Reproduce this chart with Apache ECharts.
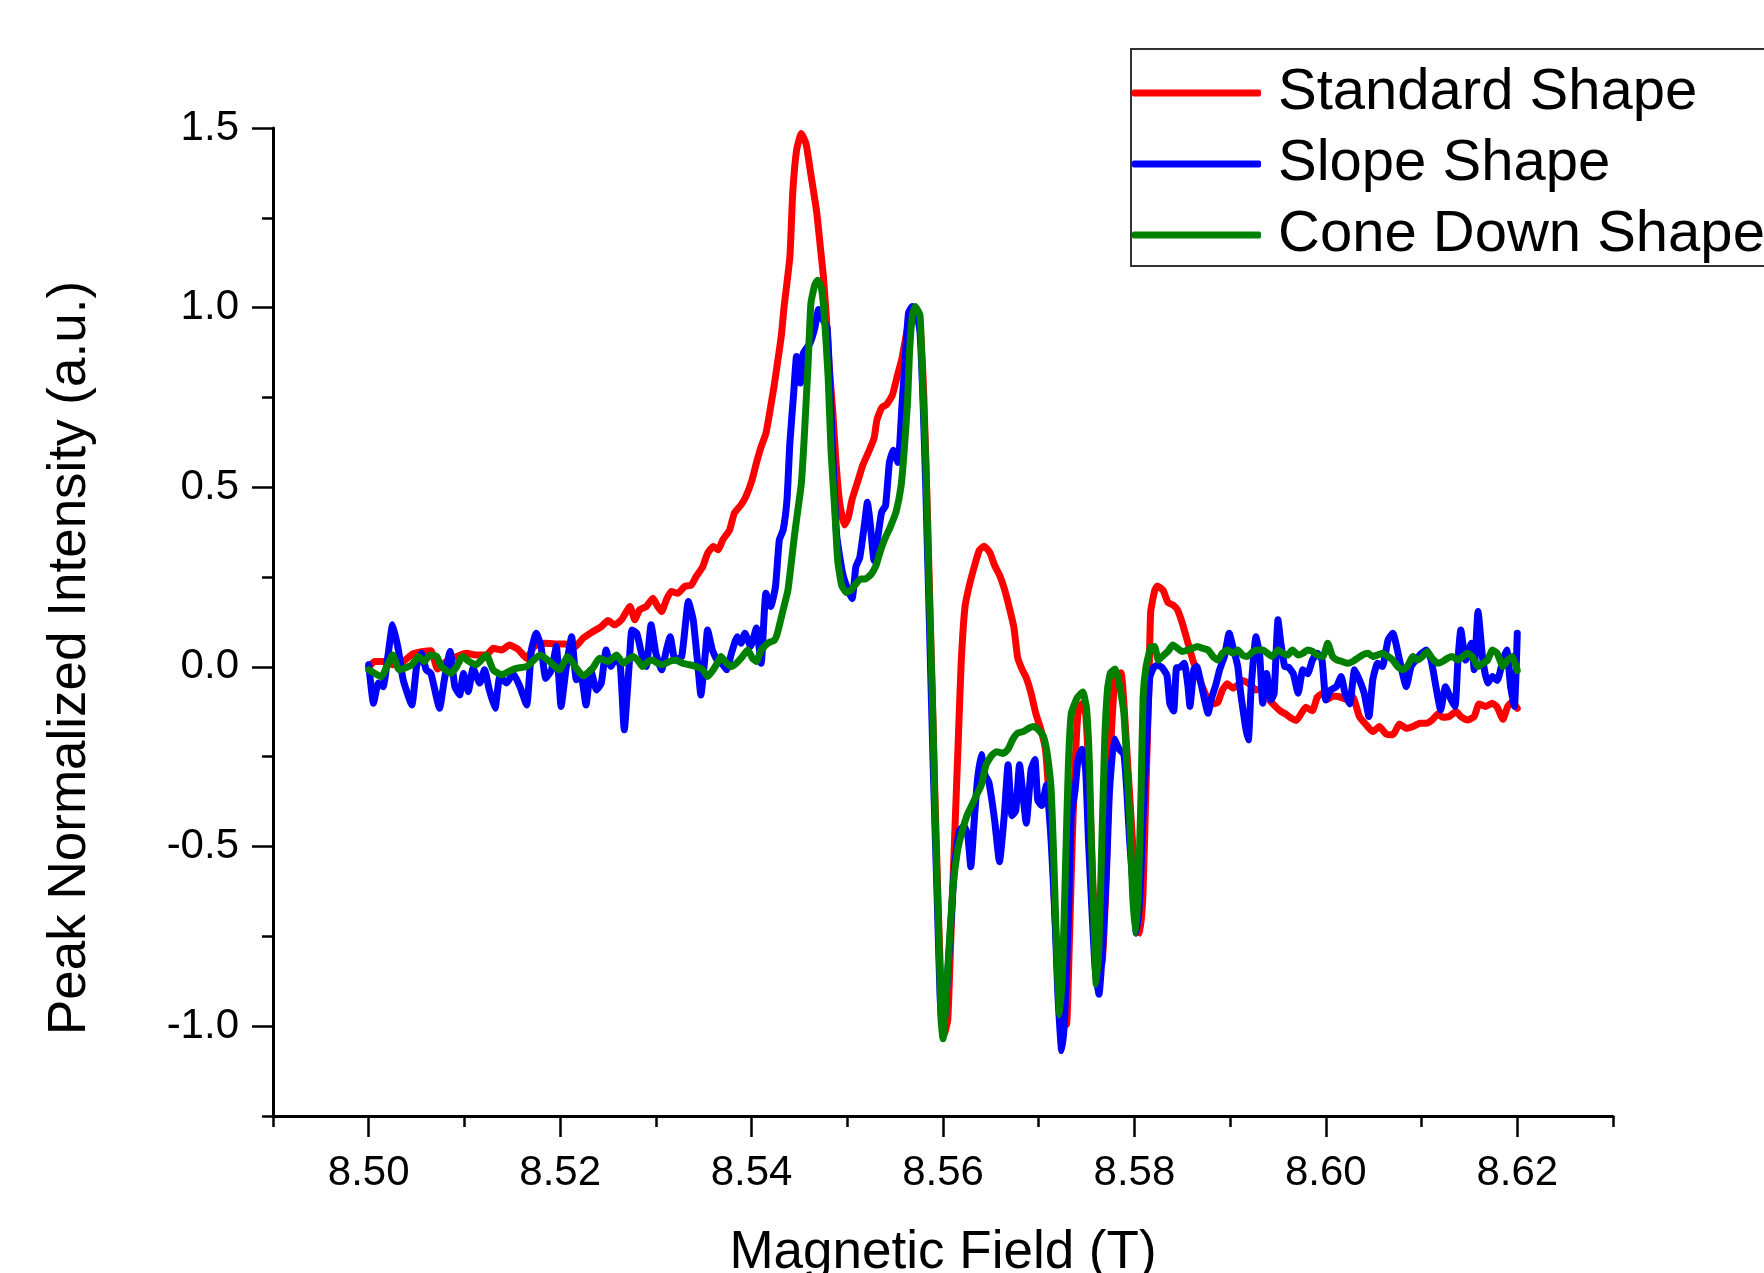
<!DOCTYPE html>
<html>
<head>
<meta charset="utf-8">
<script src="https://cdn.jsdelivr.net/npm/echarts@6/dist/echarts.min.js"></script>
<style>
html,body{margin:0;padding:0;background:#fff;}
#chart{width:1764px;height:1273px;}
</style>
</head>
<body>
<div id="chart"></div>
<script>
const seriesNames = ['Standard Shape', 'Slope Shape', 'Cone Down Shape'];
const xTickLabels = ['8.49','8.50','8.51','8.52','8.53','8.54','8.55','8.56','8.57','8.58','8.59','8.60','8.61','8.62','8.63'];
const yTickLabels = ['-1.25','-1.0','-0.75','-0.5','-0.25','0.0','0.25','0.5','0.75','1.0','1.25','1.5'];
const xAxisTitle = 'Magnetic Field (T)';
const yAxisTitle = 'Peak Normalized Intensity (a.u.)';

const standardShape = [
[8.5000,0.000],[8.5006,0.015],[8.5017,0.015],[8.5025,0.006],[8.5036,0.015],[8.5046,0.036],[8.5057,0.043],[8.5065,0.045],[8.5072,-0.006],[8.5081,0.015],[8.5092,0.029],[8.5102,0.038],[8.5112,0.033],[8.5123,0.033],[8.5130,0.052],[8.5139,0.047],[8.5147,0.061],[8.5156,0.049],[8.5165,0.024],[8.5173,0.057],[8.5184,0.066],[8.5194,0.064],[8.5205,0.064],[8.5215,0.055],[8.5224,0.080],[8.5234,0.098],[8.5243,0.112],[8.5250,0.129],[8.5257,0.117],[8.5264,0.131],[8.5273,0.168],[8.5278,0.131],[8.5283,0.159],[8.5290,0.168],[8.5297,0.191],[8.5302,0.168],[8.5306,0.154],[8.5311,0.187],[8.5316,0.210],[8.5323,0.205],[8.5330,0.224],[8.5337,0.228],[8.5342,0.251],[8.5349,0.279],[8.5354,0.316],[8.5360,0.335],[8.5365,0.326],[8.5370,0.354],[8.5377,0.381],[8.5382,0.428],[8.5389,0.451],[8.5394,0.474],[8.5400,0.516],[8.5405,0.567],[8.5410,0.613],[8.5415,0.650],[8.5420,0.725],[8.5424,0.790],[8.5427,0.845],[8.5431,0.920],[8.5434,1.003],[8.5440,1.140],[8.5443,1.319],[8.5447,1.438],[8.5452,1.485],[8.5457,1.455],[8.5462,1.370],[8.5468,1.267],[8.5472,1.165],[8.5475,1.088],[8.5478,0.978],[8.5481,0.841],[8.5485,0.705],[8.5488,0.577],[8.5492,0.458],[8.5497,0.395],[8.5501,0.415],[8.5505,0.466],[8.5511,0.517],[8.5516,0.560],[8.5523,0.603],[8.5528,0.637],[8.5531,0.688],[8.5536,0.722],[8.5541,0.730],[8.5547,0.756],[8.5552,0.807],[8.5557,0.858],[8.5563,0.944],[8.5567,0.995],[8.5572,0.990],[8.5576,0.950],[8.5580,0.750],[8.5584,0.400],[8.5588,0.000],[8.5592,-0.400],[8.5596,-0.750],[8.5599,-0.970],[8.5601,-1.025],
[8.5605,-0.982],[8.5608,-0.769],[8.5612,-0.485],[8.5616,-0.201],[8.5619,0.012],[8.5623,0.168],[8.5628,0.232],[8.5633,0.282],[8.5638,0.325],[8.5643,0.336],[8.5649,0.318],[8.5654,0.282],[8.5659,0.256],[8.5664,0.218],[8.5669,0.168],[8.5674,0.111],[8.5678,0.026],[8.5683,-0.009],[8.5687,-0.030],[8.5692,-0.073],[8.5697,-0.130],[8.5702,-0.172],[8.5707,-0.229],[8.5710,-0.329],[8.5714,-0.485],[8.5717,-0.698],[8.5721,-0.883],[8.5725,-0.982],[8.5729,-0.996],[8.5732,-0.769],[8.5735,-0.485],[8.5738,-0.272],[8.5741,-0.130],[8.5745,-0.102],[8.5749,-0.130],[8.5752,-0.272],[8.5755,-0.485],[8.5757,-0.627],[8.5761,-0.755],[8.5766,-0.826],[8.5770,-0.627],[8.5773,-0.343],[8.5777,-0.130],[8.5780,-0.030],[8.5786,-0.016],[8.5789,-0.102],[8.5793,-0.272],[8.5798,-0.485],[8.5802,-0.698],[8.5806,-0.741],[8.5809,-0.627],[8.5812,-0.343],[8.5815,-0.059],[8.5817,0.154],[8.5821,0.211],[8.5824,0.225],[8.5830,0.213],[8.5835,0.179],[8.5840,0.173],[8.5845,0.159],[8.5850,0.122],[8.5856,0.066],[8.5861,0.019],[8.5866,-0.018],[8.5871,-0.055],[8.5877,-0.092],[8.5882,-0.103],[8.5887,-0.099],[8.5892,-0.064],[8.5897,-0.047],[8.5903,-0.059],[8.5908,-0.050],[8.5913,-0.038],[8.5920,-0.047],[8.5927,-0.064],[8.5934,-0.059],[8.5941,-0.092],[8.5948,-0.112],[8.5953,-0.124],[8.5958,-0.131],[8.5964,-0.143],[8.5969,-0.149],[8.5974,-0.131],[8.5979,-0.112],[8.5986,-0.122],[8.5991,-0.084],[8.5997,-0.073],[8.6002,-0.090],[8.6007,-0.081],[8.6014,-0.083],[8.6021,-0.090],[8.6028,-0.083],[8.6035,-0.138],[8.6042,-0.161],[8.6049,-0.180],[8.6056,-0.166],[8.6063,-0.187],[8.6070,-0.189],[8.6077,-0.159],[8.6084,-0.171],[8.6091,-0.166],[8.6098,-0.157],[8.6105,-0.157],[8.6111,-0.148],[8.6117,-0.131],[8.6122,-0.140],[8.6129,-0.138],[8.6136,-0.124],[8.6141,-0.138],[8.6148,-0.148],[8.6155,-0.138],[8.6160,-0.103],[8.6167,-0.110],[8.6174,-0.101],[8.6179,-0.112],[8.6185,-0.146],[8.6190,-0.110],[8.6195,-0.097],[8.6200,-0.115]
];

const slopeShape = [
[8.5000,0.006],[8.5005,-0.101],[8.5010,-0.045],[8.5015,-0.055],[8.5020,0.029],[8.5025,0.117],[8.5031,0.047],[8.5036,-0.036],[8.5045,-0.106],[8.5050,0.001],[8.5055,0.038],[8.5060,-0.008],[8.5065,-0.018],[8.5074,-0.115],[8.5079,-0.036],[8.5085,0.043],[8.5090,-0.055],[8.5095,-0.078],[8.5099,-0.018],[8.5104,-0.069],[8.5109,-0.004],[8.5116,-0.045],[8.5121,-0.008],[8.5126,-0.064],[8.5132,-0.115],[8.5137,-0.027],[8.5144,-0.045],[8.5151,-0.018],[8.5158,-0.055],[8.5165,-0.106],[8.5170,0.047],[8.5175,0.094],[8.5180,0.057],[8.5185,-0.032],[8.5191,-0.008],[8.5196,0.057],[8.5201,-0.110],[8.5206,-0.008],[8.5212,0.084],[8.5217,-0.036],[8.5222,-0.027],[8.5227,-0.106],[8.5232,-0.008],[8.5238,-0.064],[8.5243,-0.045],[8.5248,0.047],[8.5253,0.001],[8.5259,0.029],[8.5263,0.000],[8.5267,-0.175],
[8.5272,0.001],[8.5275,0.103],[8.5280,0.094],[8.5285,0.038],[8.5290,0.001],[8.5295,0.117],[8.5300,0.038],[8.5306,-0.008],[8.5311,0.047],[8.5315,0.084],[8.5320,0.019],[8.5327,0.029],[8.5334,0.182],[8.5339,0.131],[8.5344,0.001],[8.5347,-0.078],[8.5352,0.047],[8.5354,0.103],[8.5359,0.047],[8.5364,0.019],[8.5370,0.006],[8.5374,-0.008],[8.5379,0.038],[8.5385,0.084],[8.5389,0.066],[8.5393,0.094],[8.5399,0.057],[8.5405,0.108],[8.5410,0.010],[8.5415,0.205],[8.5420,0.168],[8.5425,0.224],[8.5429,0.354],[8.5433,0.381],[8.5437,0.465],[8.5440,0.623],[8.5444,0.762],[8.5447,0.864],[8.5451,0.790],[8.5454,0.873],
[8.5461,0.901],[8.5466,0.943],[8.5470,0.995],[8.5474,0.969],[8.5479,0.943],[8.5483,0.705],[8.5486,0.517],[8.5489,0.364],[8.5495,0.262],[8.5500,0.219],[8.5505,0.190],[8.5509,0.279],[8.5513,0.304],[8.5518,0.398],[8.5521,0.458],[8.5524,0.398],[8.5528,0.296],[8.5532,0.364],[8.5536,0.432],[8.5540,0.449],[8.5544,0.569],[8.5548,0.603],[8.5553,0.569],[8.5557,0.722],[8.5560,0.841],[8.5564,0.986],[8.5568,1.003],[8.5572,0.995],
[8.5576,0.930],[8.5579,0.750],[8.5582,0.500],[8.5586,0.100],[8.5590,-0.300],[8.5594,-0.650],[8.5597,-0.920],[8.5600,-1.025],
[8.5607,-0.769],[8.5612,-0.556],[8.5617,-0.457],[8.5622,-0.443],[8.5626,-0.471],[8.5629,-0.556],[8.5633,-0.414],[8.5636,-0.315],[8.5640,-0.244],[8.5644,-0.301],[8.5648,-0.322],[8.5654,-0.428],[8.5659,-0.542],[8.5664,-0.414],[8.5668,-0.272],[8.5672,-0.414],[8.5676,-0.400],[8.5680,-0.272],[8.5683,-0.343],[8.5687,-0.435],[8.5692,-0.286],[8.5696,-0.258],[8.5699,-0.371],[8.5703,-0.386],[8.5708,-0.329],[8.5713,-0.485],[8.5717,-0.698],[8.5720,-0.911],[8.5724,-1.068],[8.5727,-0.982],[8.5731,-0.698],[8.5734,-0.414],[8.5738,-0.343],[8.5741,-0.258],[8.5745,-0.229],[8.5749,-0.286],[8.5752,-0.485],[8.5756,-0.698],[8.5759,-0.840],[8.5763,-0.911],[8.5767,-0.769],[8.5771,-0.556],[8.5774,-0.343],[8.5779,-0.201],[8.5784,-0.229],[8.5789,-0.244],[8.5792,-0.343],[8.5795,-0.485],[8.5799,-0.627],[8.5802,-0.741],[8.5806,-0.627],[8.5809,-0.414],[8.5813,-0.201],[8.5816,-0.030],[8.5820,-0.002],[8.5824,0.005],[8.5829,-0.002],[8.5834,-0.024],[8.5837,-0.102],[8.5841,-0.123],[8.5844,-0.002],[8.5847,-0.002],
[8.5852,0.010],[8.5856,-0.055],[8.5858,-0.110],[8.5862,-0.008],[8.5865,0.001],[8.5871,-0.064],[8.5877,-0.129],[8.5880,-0.092],[8.5885,-0.050],[8.5889,-0.008],[8.5894,0.029],[8.5899,0.094],[8.5903,0.055],[8.5908,0.001],[8.5911,-0.073],[8.5916,-0.166],[8.5919,-0.203],[8.5922,-0.055],[8.5927,0.084],[8.5931,0.029],[8.5934,-0.101],[8.5938,-0.018],[8.5943,-0.092],[8.5946,-0.073],[8.5950,0.131],[8.5953,0.066],[8.5957,0.001],[8.5961,-0.001],[8.5966,-0.019],[8.5971,-0.073],[8.5976,-0.008],[8.5981,-0.019],[8.5986,0.019],[8.5991,0.038],[8.5996,0.019],[8.6000,-0.092],[8.6005,-0.064],[8.6011,-0.055],[8.6016,-0.027],[8.6020,-0.073],[8.6025,-0.103],[8.6030,-0.008],[8.6035,-0.036],[8.6040,-0.073],[8.6045,-0.138],[8.6049,-0.036],[8.6054,0.010],[8.6059,0.001],[8.6065,0.075],[8.6070,0.094],[8.6077,0.019],[8.6084,-0.055],[8.6089,0.001],[8.6094,0.019],[8.6099,0.036],[8.6105,0.047],[8.6110,0.019],[8.6115,-0.055],[8.6120,-0.120],[8.6125,-0.055],[8.6131,-0.092],[8.6135,-0.110],[8.6138,0.019],[8.6141,0.103],[8.6146,0.019],[8.6152,0.066],[8.6155,-0.008],[8.6159,0.154],[8.6164,0.019],[8.6169,-0.045],[8.6174,-0.027],[8.6179,-0.038],[8.6185,0.019],[8.6189,0.047],[8.6193,-0.055],[8.6197,-0.110],[8.6200,0.094]
];

const coneDownShape = [
[8.5000,-0.008],[8.5013,-0.027],[8.5025,0.033],[8.5032,-0.008],[8.5045,0.006],[8.5052,0.029],[8.5058,0.015],[8.5064,0.033],[8.5071,0.029],[8.5076,0.001],[8.5086,-0.018],[8.5092,0.001],[8.5098,0.029],[8.5105,0.015],[8.5112,0.006],[8.5123,0.033],[8.5130,-0.008],[8.5139,-0.022],[8.5146,-0.013],[8.5154,-0.004],[8.5165,0.001],[8.5179,0.033],[8.5189,0.015],[8.5199,-0.008],[8.5208,0.029],[8.5217,-0.004],[8.5224,-0.025],[8.5234,-0.004],[8.5241,0.024],[8.5250,0.015],[8.5259,0.033],
[8.5266,0.010],[8.5276,0.029],[8.5281,0.019],[8.5286,0.001],[8.5292,0.015],[8.5297,0.019],[8.5302,0.010],[8.5307,0.006],[8.5314,0.015],[8.5321,0.019],[8.5328,0.010],[8.5335,0.006],[8.5342,0.001],[8.5349,-0.008],[8.5354,-0.027],[8.5360,-0.008],[8.5365,0.015],[8.5368,0.029],[8.5374,0.010],[8.5379,0.001],[8.5384,0.010],[8.5389,0.024],[8.5396,0.047],[8.5401,0.024],[8.5405,0.015],[8.5410,0.047],[8.5417,0.066],[8.5424,0.075],[8.5427,0.094],[8.5433,0.159],[8.5438,0.214],[8.5441,0.279],
[8.5445,0.370],[8.5448,0.430],[8.5452,0.510],[8.5455,0.637],[8.5459,0.841],[8.5462,1.012],[8.5466,1.063],[8.5469,1.076],[8.5473,1.054],[8.5476,0.978],[8.5480,0.807],[8.5483,0.603],[8.5487,0.432],[8.5490,0.296],[8.5494,0.228],[8.5499,0.207],[8.5504,0.214],[8.5509,0.231],[8.5514,0.245],[8.5519,0.245],[8.5525,0.258],[8.5530,0.282],[8.5535,0.326],[8.5540,0.361],[8.5545,0.390],[8.5551,0.432],[8.5556,0.500],[8.5559,0.586],[8.5563,0.739],[8.5565,0.875],[8.5568,0.978],[8.5571,1.003],[8.5576,0.978],[8.5578,0.841],[8.5582,0.569],[8.5585,0.262],[8.5589,-0.096],[8.5592,-0.437],[8.5596,-0.778],[8.5598,-0.983],[8.5600,-1.035],
[8.5605,-0.840],[8.5610,-0.627],[8.5615,-0.514],[8.5620,-0.457],[8.5625,-0.414],[8.5630,-0.386],[8.5635,-0.357],[8.5640,-0.329],[8.5645,-0.272],[8.5651,-0.246],[8.5656,-0.236],[8.5663,-0.241],[8.5668,-0.229],[8.5673,-0.201],[8.5678,-0.184],[8.5684,-0.180],[8.5690,-0.170],[8.5695,-0.166],[8.5700,-0.176],[8.5705,-0.194],[8.5709,-0.244],[8.5713,-0.343],[8.5716,-0.556],[8.5719,-0.812],[8.5722,-0.968],[8.5725,-0.840],[8.5728,-0.556],[8.5731,-0.272],[8.5734,-0.130],[8.5740,-0.087],[8.5746,-0.070],[8.5750,-0.116],[8.5753,-0.272],[8.5755,-0.485],[8.5758,-0.741],[8.5760,-0.883],[8.5763,-0.769],[8.5766,-0.485],[8.5769,-0.201],[8.5772,-0.059],[8.5775,-0.016],[8.5780,-0.006],[8.5784,-0.045],[8.5789,-0.130],[8.5792,-0.272],[8.5795,-0.414],[8.5798,-0.627],[8.5801,-0.741],[8.5804,-0.627],[8.5807,-0.343],[8.5809,-0.087],[8.5812,-0.002],[8.5817,0.055],[8.5821,0.057],[8.5825,0.019],[8.5829,0.029],[8.5835,0.043],[8.5840,0.061],[8.5845,0.052],
[8.5850,0.043],[8.5856,0.047],[8.5861,0.052],[8.5866,0.057],[8.5871,0.052],[8.5877,0.047],[8.5882,0.029],[8.5887,0.019],[8.5892,0.038],[8.5897,0.047],[8.5903,0.038],[8.5908,0.047],[8.5913,0.033],[8.5918,0.029],[8.5924,0.043],[8.5929,0.047],[8.5934,0.047],[8.5939,0.038],[8.5944,0.029],[8.5950,0.047],[8.5955,0.038],[8.5960,0.033],[8.5965,0.047],[8.5971,0.033],[8.5976,0.038],[8.5981,0.047],[8.5986,0.043],[8.5991,0.033],[8.5997,0.029],[8.6002,0.066],[8.6007,0.029],[8.6012,0.019],[8.6017,0.015],[8.6023,0.010],[8.6028,0.015],[8.6033,0.024],[8.6038,0.033],[8.6044,0.038],[8.6049,0.029],[8.6054,0.033],[8.6059,0.038],[8.6065,0.029],[8.6070,0.019],[8.6075,0.001],[8.6080,-0.008],[8.6085,0.001],[8.6091,0.029],[8.6096,0.019],[8.6101,0.029],[8.6106,0.043],[8.6111,0.024],[8.6117,0.010],[8.6122,0.015],[8.6127,0.024],[8.6132,0.029],[8.6138,0.019],[8.6143,0.029],[8.6148,0.038],[8.6153,0.029],[8.6159,0.001],[8.6164,0.010],[8.6169,0.019],[8.6174,0.047],[8.6179,0.038],[8.6185,0.001],[8.6190,0.019],[8.6195,0.029],[8.6200,-0.010]
];

const FONT = "'Liberation Sans', Arial, Helvetica, sans-serif";
const colors = ['#ff0000', '#0000ff', '#008000'];
const seriesData = [standardShape, slopeShape, coneDownShape];

const chart = echarts.init(document.getElementById('chart'), null, {renderer: 'canvas'});
const isMajor = function (index) { return index % 2 === 1; };

chart.setOption({
  animation: false,
  backgroundColor: '#ffffff',
  grid: {left: 273, top: 128, right: 151, bottom: 157, containLabel: false, outerBoundsMode: 'none'},
  graphic: [{
    type: 'text',
    x: 70,
    y: 658,
    rotation: Math.PI / 2,
    silent: true,
    style: {
      text: yAxisTitle,
      fontFamily: FONT,
      fontSize: 53,
      fill: '#000',
      align: 'center',
      verticalAlign: 'middle'
    }
  }],
  legend: {
    orient: 'vertical',
    left: 1131,
    top: 49,
    data: seriesNames,
    icon: 'roundRect',
    itemWidth: 129,
    itemHeight: 7,
    itemGap: 13,
    padding: [15, 40, 2, 1],
    borderColor: '#333333',
    borderWidth: 2,
    backgroundColor: '#ffffff',
    textStyle: {fontFamily: FONT, fontSize: 58, color: '#000', lineHeight: 56, padding: [0, 0, 0, 12]}
  },
  xAxis: [
    {
      type: 'value', min: 8.49, max: 8.63, interval: 0.01,
      axisLine: {show: true, onZero: false, lineStyle: {color: '#000', width: 3}},
      axisTick: {show: true, inside: false, length: 11, lineStyle: {color: '#000', width: 2.5}},
      axisLabel: {show: false},
      splitLine: {show: false},
      name: xAxisTitle, nameLocation: 'middle', nameGap: 111,
      nameTextStyle: {fontFamily: FONT, fontSize: 53, color: '#000', verticalAlign: 'top'}
    },
    {
      type: 'category', data: xTickLabels, boundaryGap: false, position: 'bottom',
      axisLine: {show: false, onZero: false},
      axisTick: {show: true, length: 21, interval: isMajor, lineStyle: {color: '#000', width: 2.5}},
      axisLabel: {show: true, interval: isMajor, margin: 36, fontFamily: FONT, fontSize: 42, color: '#000'},
      splitLine: {show: false}
    }
  ],
  yAxis: [
    {
      type: 'value', min: -1.25, max: 1.5, interval: 0.25,
      axisLine: {show: true, onZero: false, lineStyle: {color: '#000', width: 3}},
      axisTick: {show: true, inside: false, length: 11, lineStyle: {color: '#000', width: 2.5}},
      axisLabel: {show: false},
      splitLine: {show: false}
    },
    {
      type: 'category', data: yTickLabels, boundaryGap: false, position: 'left',
      axisLine: {show: false, onZero: false},
      axisTick: {show: true, length: 21, interval: isMajor, lineStyle: {color: '#000', width: 2.5}},
      axisLabel: {show: true, interval: isMajor, margin: 34, fontFamily: FONT, fontSize: 42, color: '#000'},
      splitLine: {show: false}
    }
  ],
  series: seriesNames.map(function (name, i) {
    return {
      name: name,
      type: 'line',
      xAxisIndex: 0,
      yAxisIndex: 0,
      data: seriesData[i],
      showSymbol: false,
      symbol: 'none',
      smooth: 0.15,
      color: colors[i],
      lineStyle: {color: colors[i], width: 7, cap: 'round', join: 'round'},
      z: 2 + i
    };
  })
});
</script>
</body>
</html>
